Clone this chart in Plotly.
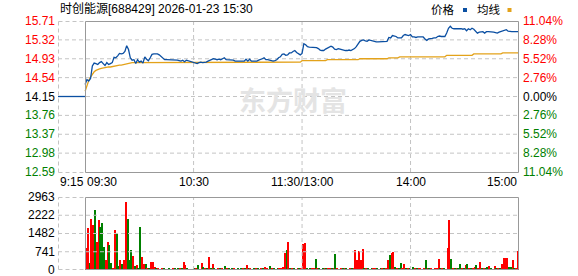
import math
import plotly.graph_objects as go

# ---------------- data ----------------
stock_name = "时创能源"
stock_code = "688429"
timestamp = "2026-01-23 15:30"
prev_close = 14.15

price_ticks = [12.59, 12.98, 13.37, 13.76, 14.15, 14.54, 14.93, 15.32, 15.71]
pct_labels = ["11.04%", "8.28%", "5.52%", "2.76%", "0.00%", "2.76%", "5.52%", "8.28%", "11.04%"]
vol_ticks = [0, 741, 1482, 2222, 2963]
time_labels = ["9:15", "09:30", "10:30", "11:30/13:00", "14:00", "15:00"]
grid_times = ["10:30", "11:30", "14:00"]
premarket_times = ["09:15", "09:30"]
premarket_price = [14.15, 14.15]

price = [
    14.40, 14.50, 14.47, 14.52, 14.78, 14.84, 14.83, 14.81, 14.85, 14.87,
    14.83, 14.79, 14.85, 14.81, 14.83, 14.85, 14.96, 14.95, 14.99, 15.04,
    15.03, 15.04, 15.08, 15.20, 15.12, 14.95, 14.90, 14.91, 14.83, 14.91,
    14.86, 14.88, 14.84, 14.97, 14.92, 14.89, 14.95, 15.02, 15.03, 15.03,
    15.03, 15.01, 14.98, 14.95, 14.91, 14.91, 14.91, 14.91, 14.91, 14.91,
    14.91, 14.90, 14.89, 14.88, 14.90, 14.87, 14.90, 14.89, 14.88, 14.87,
    14.86, 14.85, 14.83, 14.85, 14.86, 14.85, 14.85, 14.86, 14.88, 14.90,
    14.91, 14.93, 14.92, 14.91, 14.92, 14.91, 14.93, 14.95, 14.91, 14.91,
    14.91, 14.91, 14.90, 14.88, 14.88, 14.88, 14.88, 14.88, 14.88, 14.92,
    14.88, 14.92, 14.88, 14.88, 14.88, 14.88, 14.90, 14.91, 14.93, 14.95,
    14.91, 14.91, 14.90, 14.88, 14.88, 14.89, 14.91, 14.95, 14.97, 15.02,
    15.03, 15.00, 15.01, 15.05, 15.05, 15.08, 15.10, 15.06, 15.03, 15.01,
    15.04, 15.24, 15.22, 15.18, 15.17, 15.17, 15.17, 15.17, 15.16, 15.14,
    15.11, 15.10, 15.10, 15.13, 15.15, 15.18, 15.19, 15.17, 15.13, 15.12,
    15.14, 15.13, 15.12, 15.10, 15.10, 15.10, 15.11, 15.10, 15.12, 15.14,
    15.18, 15.25, 15.29, 15.31, 15.32, 15.30, 15.29, 15.32, 15.31, 15.30,
    15.28, 15.28, 15.28, 15.28, 15.28, 15.28, 15.28, 15.29, 15.37, 15.36,
    15.41, 15.40, 15.39, 15.36, 15.36, 15.36, 15.41, 15.43, 15.42, 15.41,
    15.43, 15.38, 15.38, 15.37, 15.38, 15.38, 15.38, 15.38, 15.34, 15.31,
    15.34, 15.34, 15.35, 15.36, 15.36, 15.39, 15.40, 15.39, 15.39, 15.39,
    15.46, 15.56, 15.60, 15.56, 15.55, 15.55, 15.56, 15.55, 15.55, 15.54,
    15.55, 15.51, 15.55, 15.53, 15.56, 15.54, 15.49, 15.46, 15.48, 15.49,
    15.49, 15.46, 15.49, 15.49, 15.49, 15.49, 15.48, 15.47, 15.46, 15.48,
    15.49, 15.51, 15.52, 15.53, 15.50, 15.49, 15.49, 15.49, 15.49, 15.48,
    15.49,
]

avg_price = [
    14.26, 14.40, 14.48, 14.55, 14.62, 14.66, 14.69, 14.71, 14.72, 14.73,
    14.74, 14.75, 14.75, 14.76, 14.76, 14.77, 14.78, 14.78, 14.79, 14.80,
    14.80, 14.81, 14.82, 14.83, 14.84, 14.85, 14.85, 14.85, 14.85, 14.85,
    14.85, 14.85, 14.85, 14.85, 14.85, 14.85, 14.85, 14.86, 14.86, 14.86,
    14.86, 14.86, 14.86, 14.86, 14.86, 14.86, 14.86, 14.86, 14.86, 14.86,
    14.86, 14.86, 14.86, 14.86, 14.86, 14.86, 14.86, 14.86, 14.86, 14.86,
    14.86, 14.86, 14.86, 14.86, 14.86, 14.86, 14.86, 14.86, 14.86, 14.86,
    14.86, 14.86, 14.86, 14.86, 14.86, 14.86, 14.86, 14.86, 14.86, 14.86,
    14.86, 14.86, 14.86, 14.86, 14.86, 14.86, 14.86, 14.86, 14.86, 14.86,
    14.86, 14.86, 14.86, 14.86, 14.86, 14.86, 14.86, 14.86, 14.86, 14.86,
    14.86, 14.86, 14.86, 14.86, 14.86, 14.86, 14.86, 14.86, 14.86, 14.86,
    14.86, 14.86, 14.86, 14.86, 14.86, 14.86, 14.86, 14.86, 14.86, 14.86,
    14.89, 14.89, 14.89, 14.89, 14.89, 14.89, 14.89, 14.89, 14.89, 14.89,
    14.89, 14.89, 14.89, 14.89, 14.91, 14.91, 14.91, 14.91, 14.91, 14.91,
    14.91, 14.91, 14.91, 14.91, 14.91, 14.91, 14.91, 14.91, 14.91, 14.91,
    14.91, 14.91, 14.93, 14.93, 14.93, 14.93, 14.93, 14.93, 14.93, 14.93,
    14.93, 14.93, 14.93, 14.93, 14.93, 14.93, 14.93, 14.93, 14.95, 14.95,
    14.95, 14.95, 14.95, 14.95, 14.97, 14.97, 14.97, 14.97, 14.97, 14.97,
    14.97, 14.97, 14.97, 14.97, 14.97, 14.97, 14.97, 14.97, 14.97, 14.97,
    14.97, 14.97, 14.97, 14.97, 14.97, 14.97, 14.97, 14.97, 14.97, 14.97,
    15.00, 15.00, 15.00, 15.00, 15.00, 15.00, 15.00, 15.00, 15.00, 15.00,
    15.00, 15.00, 15.00, 15.00, 15.00, 15.03, 15.03, 15.03, 15.03, 15.03,
    15.03, 15.03, 15.03, 15.03, 15.03, 15.03, 15.03, 15.03, 15.03, 15.03,
    15.03, 15.05, 15.05, 15.05, 15.05, 15.05, 15.05, 15.05, 15.05, 15.05,
    15.05,
]

volume = [
    875, 1724, 270, 2088, 1818, 2451, 1145, 2020, 1751, 1913,
    916, 404, 1145, 1010, 270, 67, 1616, 1455, 162, 404,
    242, 404, 2748, 2088, 404, 808, 566, 162, 202, 60,
    1751, 512, 242, 242, 67, 94, 323, 337, 135, 67,
    54, 40, 67, 47, 27, 40, 54, 35, 81, 47,
    40, 54, 61, 47, 323, 202, 54, 40, 27, 35,
    47, 67, 202, 40, 270, 108, 54, 81, 512, 47,
    242, 61, 40, 94, 54, 67, 40, 162, 54, 47,
    40, 54, 47, 35, 61, 40, 54, 47, 81, 202,
    67, 54, 40, 47, 61, 54, 35, 67, 81, 108,
    54, 40, 162, 67, 47, 40, 54, 61, 81, 135,
    673, 808, 1145, 94, 54, 67, 40, 81, 47, 54,
    1050, 1105, 67, 40, 54, 81, 47, 445, 54, 67,
    40, 54, 67, 47, 81, 61, 54, 47, 647, 54,
    40, 61, 47, 54, 67, 40, 54, 81, 47, 808,
    404, 781, 404, 849, 61, 47, 54, 40, 67, 47,
    54, 81, 40, 67, 47, 61, 94, 404, 606, 673,
    741, 135, 81, 54, 270, 67, 229, 47, 54, 61,
    40, 108, 54, 67, 47, 81, 40, 54, 404, 67,
    54, 47, 40, 61, 81, 445, 54, 67, 47, 40,
    903, 2048, 445, 67, 54, 81, 47, 242, 67, 54,
    202, 229, 47, 61, 81, 108, 202, 67, 310, 54,
    47, 61, 135, 162, 54, 40, 175, 67, 47, 61,
    242, 471, 471, 471, 121, 121, 404, 67, 81, 781,
]

vol_up = [
    1, 1, 0, 1, 1, 0, 1, 1, 0, 0,
    0, 1, 1, 0, 0, 1, 1, 0, 0, 1,
    0, 1, 1, 0, 0, 0, 1, 0, 1, 0,
    0, 1, 1, 0, 1, 0, 1, 1, 1, 0,
    1, 0, 1, 0, 0, 1, 0, 1, 1, 0,
    1, 0, 1, 0, 1, 1, 0, 1, 0, 1,
    0, 1, 0, 1, 1, 0, 1, 0, 1, 0,
    1, 0, 1, 1, 0, 1, 0, 0, 1, 0,
    1, 0, 1, 1, 0, 1, 0, 1, 0, 1,
    0, 1, 1, 0, 1, 0, 1, 1, 0, 1,
    1, 0, 0, 1, 0, 1, 0, 1, 1, 1,
    1, 0, 1, 0, 1, 0, 1, 1, 0, 1,
    1, 1, 0, 1, 0, 1, 1, 0, 1, 0,
    1, 0, 1, 0, 1, 1, 0, 1, 0, 1,
    0, 1, 0, 1, 0, 1, 1, 0, 1, 1,
    1, 1, 1, 1, 0, 1, 0, 1, 0, 1,
    1, 0, 1, 0, 1, 0, 1, 1, 0, 1,
    1, 0, 1, 0, 0, 1, 1, 0, 1, 0,
    1, 0, 1, 0, 1, 1, 0, 1, 0, 1,
    0, 1, 0, 1, 1, 1, 0, 1, 0, 1,
    1, 1, 0, 1, 0, 1, 0, 0, 1, 0,
    1, 0, 1, 0, 1, 1, 0, 1, 1, 0,
    1, 0, 0, 1, 0, 1, 1, 0, 1, 0,
    1, 1, 1, 1, 0, 0, 1, 0, 1, 1,
]

# ---------------- helpers ----------------
def tpos(label):
    """Trading-minute position of an HH:MM label (09:30 -> 0, 11:30/13:00 -> 120)."""
    h, m = label.split("/")[0].split(":")
    mins = int(h) * 60 + int(m) - 570
    if mins > 120:
        mins -= 90
    return mins


W, H = 578, 276
L, R, T, B = 58, 59, 21, 6
PW, PH = W - L - R, H - T - B


def px_x(px):
    return (px - L) / PW


def px_y(py):
    return (H - B - py) / PH


def snap_xf(frac):
    px = L + frac * PW
    return px_x(min(math.floor(px), L + PW - 1) + 0.5)


def snap_yf(frac):
    py = T + (1 - frac) * PH
    return px_y(min(math.floor(py), H - B - 1) + 0.5)


RED, GREEN, BLACK = "#ff0000", "#008000", "#000000"
BLUE_LINE, ORANGE_LINE = "#0b4fa2", "#e3a21a"
GRID = "#c4c4c4"
FRAME = "#999999"
DASH = "4px,3px"
FONT = "Liberation Sans, Arial, Noto Sans CJK SC, sans-serif"


def pcolor(v):
    if v > prev_close + 1e-9:
        return RED
    if v < prev_close - 1e-9:
        return GREEN
    return BLACK


t_main = list(range(len(price)))
t_pre = [tpos(s) for s in premarket_times]
t_vol = [i + 0.5 for i in range(len(volume))]
x_start, x_open, x_end = tpos("09:15"), tpos("09:30"), tpos("15:00")
p_lo, p_hi = price_ticks[0], price_ticks[-1]
v_lo, v_hi = vol_ticks[0], vol_ticks[-1]

main_dom = [px_y(172), 1]
vol_dom = [0, px_y(197)]


def xfrac(t):
    return (t - x_start) / (x_end - x_start)


fig = go.Figure()

# ---- dashed interior grid lines, drawn as traces underneath the data ----
grid_line = dict(color=GRID, width=1, dash=DASH)
for v in price_ticks[1:-1]:
    fig.add_trace(go.Scatter(x=[x_start, x_end], y=[v, v], mode="lines", line=grid_line,
                             hoverinfo="skip"))
for v in vol_ticks[1:-1]:
    fig.add_trace(go.Scatter(x=[x_start, x_end], y=[v, v], mode="lines", line=grid_line,
                             xaxis="x2", yaxis="y3", hoverinfo="skip"))
for s in grid_times:
    fig.add_trace(go.Scatter(x=[tpos(s), tpos(s)], y=[p_lo, p_hi], mode="lines",
                             line=grid_line, hoverinfo="skip"))
    fig.add_trace(go.Scatter(x=[tpos(s), tpos(s)], y=[v_lo, v_hi], mode="lines",
                             line=grid_line, xaxis="x2", yaxis="y3", hoverinfo="skip"))

# ---- data ----
fig.add_trace(go.Scatter(x=t_pre, y=premarket_price, mode="lines",
                         line=dict(color=BLUE_LINE, width=1.3), hoverinfo="skip"))
fig.add_trace(go.Scatter(x=t_main, y=avg_price, mode="lines",
                         line=dict(color=ORANGE_LINE, width=1.3), hoverinfo="skip"))
fig.add_trace(go.Scatter(x=t_main, y=price, mode="lines",
                         line=dict(color=BLUE_LINE, width=1.3), hoverinfo="skip"))
fig.add_trace(go.Bar(x=t_vol, y=volume, xaxis="x2", yaxis="y3", width=0.6,
                     marker=dict(color=[RED if u else GREEN for u in vol_up], line=dict(width=0)),
                     hoverinfo="skip"))

common_x = dict(range=[x_start, x_end], showgrid=False, showticklabels=False, ticks="",
                zeroline=False, showline=False, fixedrange=True, automargin=False)
common_y = dict(showgrid=False, showticklabels=False, ticks="", zeroline=False,
                showline=False, fixedrange=True, automargin=False)

fig.update_layout(
    template="none",
    width=W, height=H,
    margin=dict(l=L, r=R, t=T, b=B, pad=0),
    paper_bgcolor="white", plot_bgcolor="white",
    showlegend=False,
    bargap=0,
    font=dict(family=FONT, size=12, color=BLACK),
    xaxis=dict(domain=[0, 1], anchor="y", **common_x),
    xaxis2=dict(domain=[0, 1], anchor="y3", matches="x", **common_x),
    yaxis=dict(domain=main_dom, range=[p_lo, p_hi], anchor="x", **common_y),
    yaxis3=dict(domain=vol_dom, range=[v_lo, v_hi], anchor="x2", **common_y),
)

# ---- edge lines (pixel-snapped, drawn on top; they never touch the data) ----
shapes = []
xl = snap_xf(0)
xo = snap_xf(xfrac(x_open))
xr = snap_xf(1)
for dom in (main_dom, vol_dom):
    yb, yt = snap_yf(dom[0]), snap_yf(dom[1])
    # dashed left edge (09:15) and dashed top / bottom over the pre-market strip
    shapes.append(dict(type="line", xref="paper", yref="paper", x0=xl, x1=xl, y0=yb, y1=yt,
                       line=dict(color=GRID, width=1, dash=DASH)))
    for yy in (yb, yt):
        shapes.append(dict(type="line", xref="paper", yref="paper", x0=xl, x1=xo, y0=yy, y1=yy,
                           line=dict(color=GRID, width=1, dash=DASH)))
    # solid session frame
    shapes.append(dict(type="rect", xref="paper", yref="paper", x0=xo, x1=xr, y0=yb, y1=yt,
                       line=dict(color=FRAME, width=1)))
# legend swatches
shapes.append(dict(type="rect", xref="paper", yref="paper", x0=px_x(463), x1=px_x(467),
                   y0=px_y(12), y1=px_y(8), fillcolor=BLUE_LINE, line=dict(width=0)))
shapes.append(dict(type="rect", xref="paper", yref="paper", x0=px_x(507.5), x1=px_x(511.5),
                   y0=px_y(12), y1=px_y(8), fillcolor=ORANGE_LINE, line=dict(width=0)))
fig.update_layout(shapes=shapes)

anns = [
    dict(text=f"{stock_name}[{stock_code}] {timestamp}", xref="paper", yref="paper",
         x=0, y=px_y(9), xanchor="left", yanchor="middle", showarrow=False,
         font=dict(size=12, color=BLACK)),
    dict(text="价格", xref="paper", yref="paper", x=px_x(443), y=px_y(9.5),
         xanchor="center", yanchor="middle", showarrow=False, font=dict(size=11.5, color=BLACK)),
    dict(text="均线", xref="paper", yref="paper", x=px_x(489), y=px_y(9.5),
         xanchor="center", yanchor="middle", showarrow=False, font=dict(size=11.5, color=BLACK)),
    dict(text="<b>东方财富</b>", xref="paper", yref="paper", x=px_x(293), y=px_y(100),
         xanchor="center", yanchor="middle", showarrow=False,
         font=dict(size=27, color="#e4e4e4", family="Noto Sans CJK SC")),
]
for v, s in zip(price_ticks, pct_labels):
    anns.append(dict(text=f"{v:.2f}", xref="paper", yref="y", x=px_x(56.5), y=v,
                     xanchor="right", yanchor="middle", showarrow=False,
                     font=dict(size=12, color=pcolor(v))))
    anns.append(dict(text=s, xref="paper", yref="y", x=px_x(521), y=v,
                     xanchor="left", yanchor="middle", showarrow=False,
                     font=dict(size=12, color=pcolor(v))))
for v in vol_ticks:
    anns.append(dict(text=str(v), xref="paper", yref="y3", x=px_x(56.5), y=v,
                     xanchor="right", yanchor="middle", showarrow=False,
                     font=dict(size=12, color=BLACK)))
anchors = ["left", "left", "center", "center", "center", "right"]
for lab, anc in zip(time_labels, anchors):
    anns.append(dict(text=lab, xref="x", yref="paper", x=tpos(lab), y=px_y(182),
                     xanchor=anc, yanchor="middle", showarrow=False,
                     font=dict(size=12, color=BLACK)))
fig.update_layout(annotations=anns)

fig.write_html("out.html")
